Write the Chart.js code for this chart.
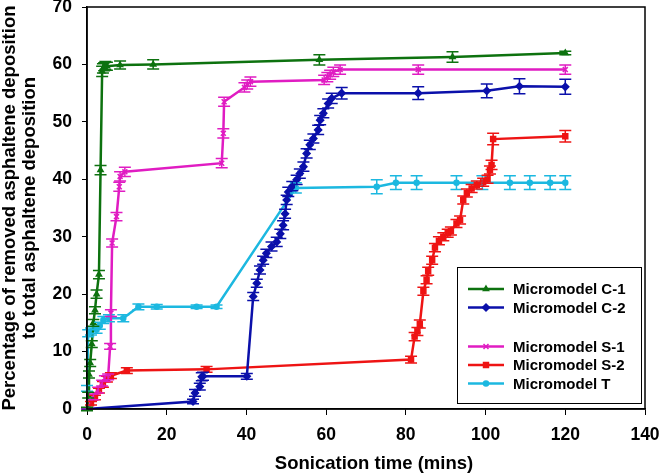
<!DOCTYPE html>
<html>
<head>
<meta charset="utf-8">
<script src="https://cdn.jsdelivr.net/npm/chart.js@4/dist/chart.umd.min.js"></script>
<style>
  html, body { margin: 0; padding: 0; background: #fff; }
  #wrap { width: 661px; height: 475px; }
</style>
</head>
<body>
<div id="wrap"><canvas id="chart" width="661" height="475"></canvas></div>
<script>
// values
const xTicks = [0, 20, 40, 60, 80, 100, 120, 140];
const yTicks = [0, 10, 20, 30, 40, 50, 60, 70];
const xTitle = 'Sonication time (mins)';

const c1Time = [0, 0.3, 0.5, 0.8, 1.2, 1.6, 2.0, 2.4, 3.0, 3.4, 3.8, 4.0, 4.3, 4.6, 5.0, 8.3, 16.6, 58.3, 91.7, 120];
const c1Pct  = [0, 2.4, 6.0, 8.0, 11.3, 15.0, 17.2, 20.0, 23.4, 41.6, 58.8, 59.3, 59.6, 59.8, 59.7, 59.9, 60.0, 60.8, 61.3, 62.0];
const c1Err  = [0.3, 0.5, 0.6, 0.6, 0.6, 0.6, 0.6, 0.7, 0.7, 0.8, 0.9, 0.8, 0.7, 0.7, 0.7, 0.7, 0.8, 0.9, 0.9, 0.3];

const c2Time = [0, 26.6, 27.1, 28.3, 28.8, 29.1, 40.1, 41.7, 42.6, 43.4, 44.2, 45.0, 46.3, 47.6, 48.5, 49.2, 49.7, 50.1, 50.5, 51.5, 52.6, 53.4, 54.3, 55.1, 55.9, 56.8, 58.0, 58.5, 59.3, 60.5, 61.4, 63.9, 83.1, 100.3, 108.5, 120];
const c2Pct  = [0, 1.3, 2.8, 3.9, 5.6, 5.7, 5.7, 19.6, 21.9, 24.2, 25.9, 27.1, 28.3, 29.1, 30.5, 32.0, 34.0, 36.4, 37.8, 38.8, 39.9, 41.0, 42.2, 44.5, 46.0, 47.1, 48.6, 50.3, 51.5, 53.2, 54.1, 55.0, 55.0, 55.4, 56.2, 56.1];
const c2Err  = [0.2, 0.4, 0.6, 0.6, 0.7, 0.7, 0.5, 0.7, 0.7, 0.7, 0.7, 0.7, 0.8, 0.8, 0.8, 0.8, 0.8, 0.8, 0.8, 0.8, 0.8, 0.8, 0.8, 0.8, 0.8, 0.8, 0.8, 0.8, 0.8, 0.8, 0.9, 1.0, 1.1, 1.2, 1.3, 1.3];

const s1Time = [0, 1.6, 2.8, 3.8, 4.5, 5.3, 5.8, 6.0, 6.3, 7.4, 8.1, 8.3, 9.5, 33.8, 34.2, 34.4, 39.5, 40.2, 41.0, 59.5, 60.3, 61.0, 61.8, 63.5, 83.1, 120];
const s1Pct  = [0, 2.1, 3.3, 4.5, 5.3, 5.6, 10.9, 16.7, 28.9, 33.5, 38.7, 40.5, 41.3, 42.8, 48.0, 53.5, 56.0, 56.5, 57.0, 57.3, 57.8, 58.2, 58.7, 59.1, 59.1, 59.1];
const s1Err  = [0.2, 0.5, 0.5, 0.5, 0.5, 0.5, 0.5, 0.6, 0.7, 0.7, 0.8, 0.8, 0.8, 0.8, 0.8, 0.8, 0.8, 0.8, 0.8, 0.8, 0.8, 0.8, 0.8, 0.8, 0.8, 0.8];

const s2Time = [0, 1.0, 2.0, 3.0, 4.0, 5.0, 6.0, 10.0, 30.0, 81.3, 82.2, 82.9, 83.5, 84.4, 85.2, 85.6, 86.6, 87.3, 88.3, 89.4, 90.5, 91.3, 92.7, 93.6, 94.4, 95.3, 96.5, 97.8, 99.4, 100.5, 101.1, 101.5, 101.9, 120];
const s2Pct  = [0, 1.0, 2.0, 3.2, 4.3, 5.2, 5.8, 6.7, 6.9, 8.6, 12.6, 13.5, 14.8, 20.5, 22.5, 24.0, 25.9, 28.1, 29.3, 30.0, 30.6, 31.0, 32.3, 32.9, 36.4, 37.6, 38.4, 39.0, 39.5, 40.0, 41.6, 42.5, 47.0, 47.5];
const s2Err  = [0.2, 0.3, 0.4, 0.4, 0.5, 0.5, 0.5, 0.5, 0.5, 0.6, 0.7, 0.7, 0.7, 0.7, 0.7, 0.7, 0.7, 0.7, 0.7, 0.7, 0.7, 0.7, 0.7, 0.7, 0.7, 0.7, 0.7, 0.7, 0.7, 0.7, 0.7, 0.8, 1.0, 1.0];

const tTime = [0, 0.3, 1.0, 2.4, 3.2, 4.1, 5.5, 9.1, 12.9, 17.5, 27.5, 32.5, 52.4, 72.7, 77.5, 82.7, 92.7, 99.2, 106.1, 111.1, 116.2, 120];
const tPct  = [3.6, 13.2, 13.5, 13.8, 14.5, 15.5, 15.8, 15.8, 17.8, 17.8, 17.8, 17.8, 38.5, 38.7, 39.4, 39.4, 39.4, 39.4, 39.4, 39.4, 39.4, 39.4];
const tErr  = [0.5, 0.6, 0.6, 0.6, 0.6, 0.6, 0.6, 0.6, 0.5, 0.4, 0.3, 0.3, 0.9, 1.2, 1.2, 1.2, 1.2, 1.2, 1.2, 1.2, 1.2, 1.2];

const FONT = '"Liberation Sans", Arial, sans-serif';

function pts(xs, ys) {
    return xs.map((x, i) => ({ x: x, y: ys[i] }));
}

function series(label, xs, ys, errs, color, style, radius, gapAfter) {
    return {
        label: label,
        data: pts(xs, ys),
        errors: errs,
        gapAfter: gapAfter,
        showLine: true,
        borderColor: color,
        backgroundColor: color,
        borderWidth: 2.5,
        pointStyle: style,
        pointRadius: radius,
        pointBorderWidth: 1.5,
        pointBorderColor: color,
        pointBackgroundColor: color,
        tension: 0
    };
}

// vertical error bars with caps
const errorBars = {
    id: 'errorBars',
    afterDatasetsDraw(chart) {
        const ctx = chart.ctx;
        const yScale = chart.scales.y;
        for (let d = chart.data.datasets.length - 1; d >= 0; d--) {
            const ds = chart.data.datasets[d];
            const meta = chart.getDatasetMeta(d);
            ctx.save();
            ctx.strokeStyle = ds.borderColor;
            ctx.lineWidth = 1.5;
            meta.data.forEach((el, i) => {
                const v = ds.data[i].y, e = ds.errors[i];
                const top = yScale.getPixelForValue(v + e);
                const bot = yScale.getPixelForValue(v - e);
                ctx.beginPath();
                ctx.moveTo(el.x, top); ctx.lineTo(el.x, bot);
                ctx.moveTo(el.x - 6, top); ctx.lineTo(el.x + 6, top);
                ctx.moveTo(el.x - 6, bot); ctx.lineTo(el.x + 6, bot);
                ctx.stroke();
            });
            ctx.restore();
        }
    }
};

// frame around plot area, x title (slightly right of centre as in the source), boxed legend
const frameAndLegend = {
    id: 'frameAndLegend',
    afterDraw(chart) {
        const ctx = chart.ctx;
        const a = chart.chartArea;
        ctx.save();
        ctx.strokeStyle = '#000';
        ctx.lineWidth = 1.5;
        ctx.strokeRect(a.left, a.top, a.right - a.left, a.bottom - a.top);

        ctx.fillStyle = '#000';
        ctx.font = 'bold 18.5px ' + FONT;
        ctx.textAlign = 'center';
        ctx.textBaseline = 'middle';
        ctx.fillText(xTitle, (a.left + a.right) / 2 + 8, 464);

        ctx.fillStyle = '#fff';
        ctx.fillRect(457, 267, 184, 136);
        ctx.lineWidth = 1;
        ctx.strokeRect(457.5, 267.5, 184, 136);

        let y = 289;
        ctx.font = 'bold 15px ' + FONT;
        ctx.textAlign = 'left';
        chart.data.datasets.forEach(ds => {
            ctx.strokeStyle = ds.borderColor;
            ctx.fillStyle = ds.borderColor;
            ctx.lineWidth = 2.5;
            ctx.beginPath();
            ctx.moveTo(468, y); ctx.lineTo(504, y);
            ctx.stroke();
            ctx.lineWidth = 1.5;
            Chart.helpers.drawPoint(ctx, { pointStyle: ds.pointStyle, radius: ds.pointRadius, rotation: 0, borderWidth: 1.5 }, 486, y);
            ctx.fillStyle = '#000';
            ctx.fillText(ds.label, 513, y + 1);
            y += ds.gapAfter ? 39 : 18.5;
        });
        ctx.restore();
    }
};

new Chart(document.getElementById('chart'), {
    type: 'scatter',
    data: {
        datasets: [
            series('Micromodel C-1', c1Time, c1Pct, c1Err, '#0d720f', 'triangle', 3, false),
            series('Micromodel C-2', c2Time, c2Pct, c2Err, '#0b10aa', 'rectRot', 3.5, true),
            series('Micromodel S-1', s1Time, s1Pct, s1Err, '#e01cc2', 'crossRot', 3.5, false),
            series('Micromodel S-2', s2Time, s2Pct, s2Err, '#ee1414', 'rect', 3.5, false),
            series('Micromodel T', tTime, tPct, tErr, '#1cb8e0', 'circle', 2.5, false)
        ]
    },
    options: {
        responsive: false,
        animation: false,
        layout: { padding: { top: 7, right: 16, left: 0, bottom: 0 } },
        plugins: {
            legend: { display: false },
            tooltip: { enabled: false }
        },
        scales: {
            x: {
                type: 'linear',
                min: 0, max: 140,
                afterBuildTicks: s => { s.ticks = xTicks.map(v => ({ value: v })); },
                afterFit: s => { s.height = 66; s.paddingLeft = 0; s.paddingRight = 0; },
                border: { color: '#000', width: 1.5 },
                grid: { drawOnChartArea: false, color: '#000', tickLength: 6, lineWidth: 1 },
                ticks: { color: '#000', font: { family: FONT, size: 17.5, weight: 'bold' }, padding: 10, maxRotation: 0 },
                title: { display: false }
            },
            y: {
                type: 'linear',
                min: 0, max: 70,
                afterBuildTicks: s => { s.ticks = yTicks.map(v => ({ value: v })); },
                afterFit: s => { s.width = 87; s.paddingTop = 0; s.paddingBottom = 0; },
                border: { color: '#000', width: 1.5 },
                grid: { drawOnChartArea: false, color: '#000', tickLength: 5, lineWidth: 1 },
                ticks: { color: '#000', font: { family: FONT, size: 17.5, weight: 'bold' }, padding: 10 },
                title: {
                    display: true,
                    text: ['Percentage of removed asphaltene deposition', 'to total asphaltene deposition'],
                    color: '#000',
                    font: { family: FONT, size: 18.5, weight: 'bold', lineHeight: 1.08 },
                    padding: { top: 0, bottom: 0 }
                }
            }
        }
    },
    plugins: [errorBars, frameAndLegend]
});
</script>
</body>
</html>
